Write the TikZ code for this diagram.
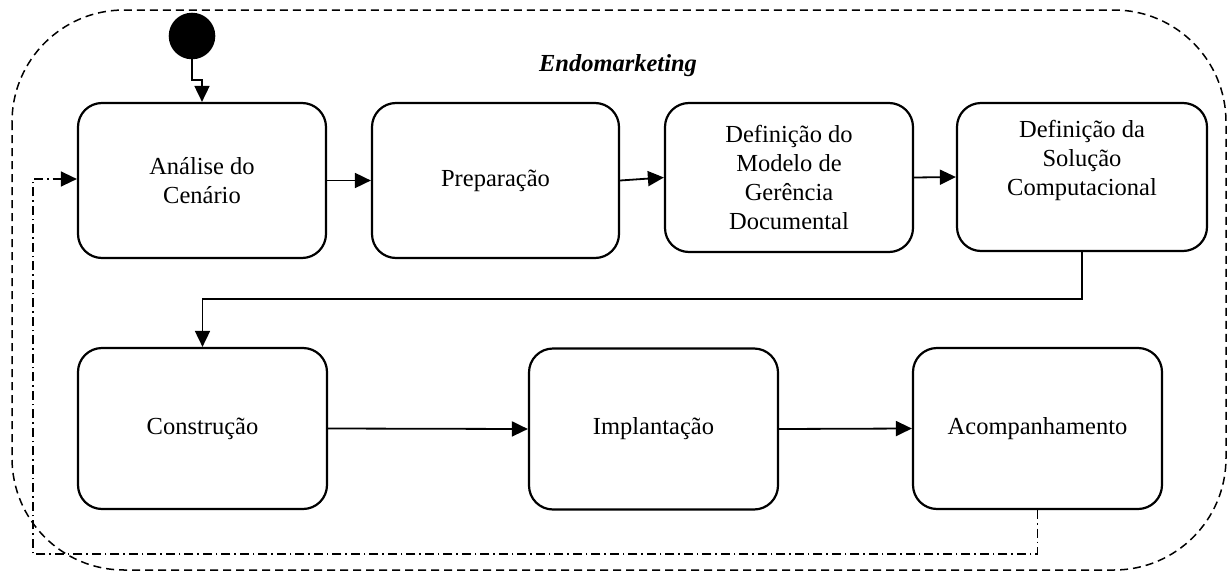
\documentclass[tikz,border=0pt]{standalone}
\usepackage{fontspec}
\setmainfont{Liberation Serif}
\usetikzlibrary{arrows.meta,positioning}

\begin{document}
\begin{tikzpicture}[x=1pt,y=-1pt,
  stage/.style={draw, line width=2.2pt, rounded corners=24pt, align=center,
    inner sep=0pt, font=\fontsize{24.5}{29}\selectfont},
  flow/.style={line width=1.8pt, -{Triangle[length=16pt,width=15pt]}},
  backflow/.style={line width=1.4pt, dash pattern=on 9pt off 4pt on 1.5pt off 4pt,
    -{Triangle[length=16pt,width=15pt]}},
  frame/.style={line width=1.5pt, dash pattern=on 8pt off 5pt, rounded corners=112pt}
]
\useasboundingbox (0,0) rectangle (1227,573);

% enclosing region
\draw[frame] (12,10) rectangle (1226,570);
\node[font=\fontsize{24.5}{29}\selectfont\bfseries\itshape] (title) at (618,66) {Endomarketing};

% initial state
\fill (192,36) circle (23.3pt);
\coordinate (start) at (192,59);

% first row of stages
\node[stage, minimum width=248pt, minimum height=155pt] (b1) at (202,180.5) {Análise do\\Cenário};
\node[stage, minimum width=247pt, minimum height=155pt] (b2) at (495.5,180.5) {Preparação};
\node[stage, minimum width=248pt, minimum height=149pt] (b3) at (789,177.5) {Definição do\\Modelo de\\Gerência\\Documental};
\node[stage, minimum width=250pt, minimum height=148pt] (b4) at (1082,177) {Definição da\\Solução\\Computacional\\\strut};

% second row of stages
\node[stage, minimum width=249pt, minimum height=161pt] (b5) at (202.5,428.5) {Construção};
\node[stage, minimum width=249pt, minimum height=161pt] (b6) at (653.5,429) {Implantação};
\node[stage, minimum width=249pt, minimum height=161pt] (b7) at (1037.5,428.5) {Acompanhamento};

\coordinate (loop) at (33,554);

% transitions
\draw[flow] (start) -- ++(0,21) -| (b1.north);
\draw[flow] (b1.east) -- (b2.west);
\draw[flow] (b2.east) -- (b3.west);
\draw[flow] (b3.east) -- (b4.west);
\draw[flow] (b4.south) -- ++(0,47) -| (b5.north);
\draw[flow] (b5.east) -- (b6.west);
\draw[flow] (b6.east) -- (b7.west);
\draw[backflow] (b7.south) |- (loop) |- ([yshift=1.5pt]b1.west);
\end{tikzpicture}
\end{document}
